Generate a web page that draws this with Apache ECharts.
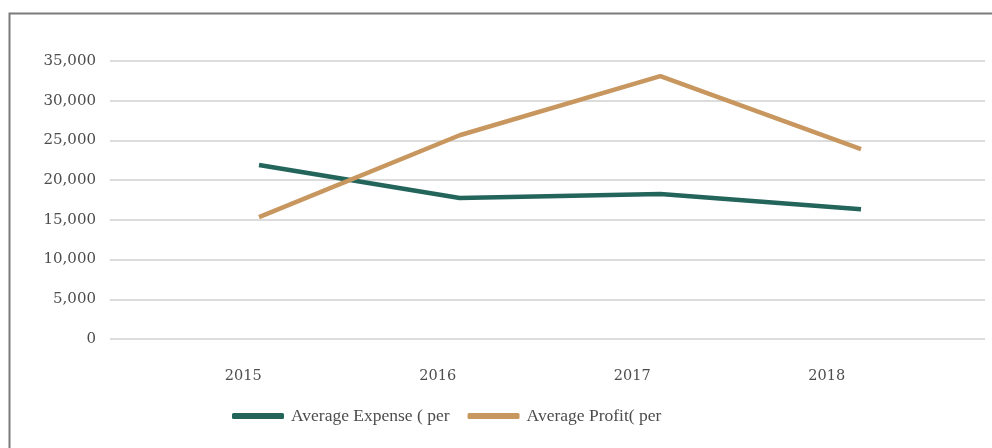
<!DOCTYPE html>
<html>
<head>
<meta charset="utf-8">
<script src="https://cdn.jsdelivr.net/npm/echarts@6/dist/echarts.min.js"></script>
<style>html,body{margin:0;padding:0;background:#fff}#c{width:992px;height:448px}</style>
</head>
<body>
<div id="c"></div>
<script>
var categories = ['2015', '2016', '2017', '2018'];
var expense = [21900, 17750, 18250, 16350];
var profit = [15350, 25650, 33100, 23900];
var seriesNames = ['Average Expense ( per', 'Average Profit( per'];
var yMin = 0, yMax = 35000, yInterval = 5000;

var font = 'DejaVu Serif';
var chart = echarts.init(document.getElementById('c'));
var hiddenY = function (idx) {
  return { type: 'value', gridIndex: idx, min: yMin, max: yMax, interval: yInterval, show: false };
};
chart.setOption({
  animation: false,
  backgroundColor: '#ffffff',
  graphic: [{
    type: 'rect', left: 7, top: 11, silent: true,
    shape: { width: 1010, height: 470 },
    style: { fill: 'none', stroke: '#7b7b7b', lineWidth: 2 }
  }],
  grid: [
    { left: 110, right: 7, top: 61, bottom: 109 },
    { left: 259, right: 131, top: 61, bottom: 109 },
    { left: 146, right: 68, top: 61, bottom: 109 }
  ],
  xAxis: [
    { type: 'category', gridIndex: 0, data: categories, show: false },
    { type: 'category', gridIndex: 1, data: categories, boundaryGap: false, show: false },
    { type: 'category', gridIndex: 2, data: categories, boundaryGap: true,
      axisLine: { show: false }, axisTick: { show: false },
      axisLabel: { margin: 30, color: '#4d4d4d', fontFamily: font, fontSize: 14.5 } }
  ],
  yAxis: [
    { type: 'value', gridIndex: 0, min: yMin, max: yMax, interval: yInterval,
      axisLine: { show: false }, axisTick: { show: false },
      axisLabel: { margin: 14, color: '#4d4d4d', fontFamily: font, fontSize: 15,
        formatter: function (v) { return v.toLocaleString('en-US'); } },
      splitLine: { lineStyle: { color: '#dcdcdc', width: 2 } } },
    hiddenY(1), hiddenY(2)
  ],
  legend: {
    left: 227, top: 402,
    itemWidth: 52, itemHeight: 6, itemGap: 18,
    icon: 'roundRect',
    textStyle: { color: '#4d4d4d', fontFamily: 'Liberation Serif', fontSize: 17.5, padding: [0, 0, 0, 2] },
    data: seriesNames
  },
  series: [
    { name: seriesNames[0], type: 'line', xAxisIndex: 1, yAxisIndex: 1, data: expense,
      symbol: 'none', color: '#23655b', lineStyle: { width: 4.5, color: '#23655b' } },
    { name: seriesNames[1], type: 'line', xAxisIndex: 1, yAxisIndex: 1, data: profit,
      symbol: 'none', color: '#c8975f', lineStyle: { width: 4.5, color: '#c8975f' } }
  ]
});
</script>
</body>
</html>
